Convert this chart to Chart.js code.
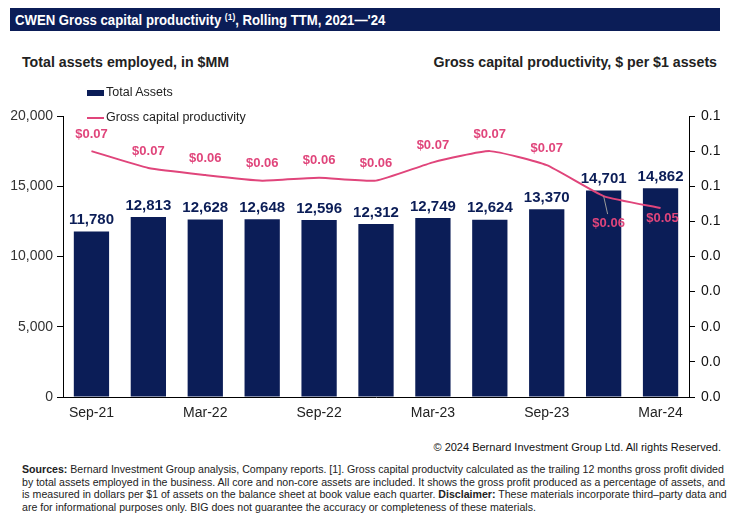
<!DOCTYPE html>
<html>
<head>
<meta charset="utf-8">
<script src="https://cdn.jsdelivr.net/npm/chart.js@4.4.1/dist/chart.umd.min.js"></script>
<style>
  body { margin: 0; width: 730px; height: 524px; background: #fff; font-family: "Liberation Sans", Arial, sans-serif; position: relative; overflow: hidden; }
  .hdr { position: absolute; left: 10px; top: 8px; width: 710px; height: 23px; background: #0b1d57; }
  .hdr span { position: absolute; left: 5px; top: 0; color: #fff; font-weight: bold; font-size: 14px; line-height: 24px; white-space: nowrap; transform: scaleX(0.94); transform-origin: left center; }
  .hdr sup { font-size: 9px; vertical-align: 5px; line-height: 0; }
  .sub { position: absolute; top: 54px; font-weight: bold; font-size: 14.2px; color: #222; }
  .leg { position: absolute; left: 87px; font-size: 12.5px; color: #222; }
  .leg i { display: inline-block; width: 17px; vertical-align: middle; margin-right: 2px; }
  #wrap { position: absolute; left: 0; top: 80px; width: 730px; height: 350px; }
  .copy { position: absolute; right: 9px; top: 441px; font-size: 11px; color: #111; }
  .src { position: absolute; left: 22px; top: 463px; font-size: 10.6px; line-height: 12.6px; color: #222; white-space: nowrap; }
</style>
</head>
<body>
<div class="hdr"><span>CWEN Gross capital productivity <sup>(1)</sup>, Rolling TTM, 2021—'24</span></div>
<div class="sub" style="left:22px">Total assets employed, in $MM</div>
<div class="sub" style="right:13px">Gross capital productivity, $ per $1 assets</div>
<div id="wrap"><canvas id="chart" width="730" height="350"></canvas></div>
<div class="leg" style="top:85px"><i style="height:6px;background:#0b1d57"></i>Total Assets</div>
<div class="leg" style="top:110px"><i style="height:2px;background:#e0457b"></i>Gross capital productivity</div>
<div class="copy">© 2024 Bernard Investment Group Ltd. All rights Reserved.</div>
<div class="src"><b>Sources:</b> Bernard Investment Group analysis, Company reports. [1]. Gross capital productvity calculated as the trailing 12 months gross profit divided<br>by total assets employed in the business. All core and non-core assets are included. It shows the gross profit produced as a percentage of assets, and<br>is measured in dollars per $1 of assets on the balance sheet at book value each quarter. <b>Disclaimer:</b> These materials incorporate third–party data and<br>are for informational purposes only. BIG does not guarantee the accuracy or completeness of these materials.</div>
<script>
const quarters = ["Sep-21", "Dec-21", "Mar-22", "Jun-22", "Sep-22", "Dec-22", "Mar-23", "Jun-23", "Sep-23", "Dec-23", "Mar-24"];
const totalAssets = [11780, 12813, 12628, 12648, 12596, 12312, 12749, 12624, 13370, 14701, 14862];
const productivity = [0.0700, 0.0652, 0.0632, 0.0616, 0.0624, 0.0616, 0.0668, 0.0700, 0.0660, 0.0572, 0.0538];
const leftTicks = [0, 5000, 10000, 15000, 20000];

const NAVY = "#0b1d57";
const PINK = "#e0457b";

// value labels for bars and the line
const labelPlugin = {
  id: "labels",
  afterDatasetsDraw(chart) {
    const c = chart.ctx;
    c.save();
    c.textAlign = "center";
    c.font = "bold 15px 'Liberation Sans', Arial";
    c.fillStyle = NAVY;
    c.textBaseline = "bottom";
    chart.getDatasetMeta(0).data.forEach((bar, i) => {
      c.fillText(totalAssets[i].toLocaleString("en-US"), bar.x, bar.y - 4);
    });
    c.font = "bold 13px 'Liberation Sans', Arial";
    c.fillStyle = PINK;
    c.textBaseline = "middle";
    const pts = chart.getDatasetMeta(1).data;
    pts.forEach((p, i) => {
      const txt = "$" + productivity[i].toFixed(2);
      if (i === 9) {
        c.strokeStyle = "#999";
        c.lineWidth = 1;
        c.beginPath();
        c.moveTo(p.x, p.y);
        c.lineTo(p.x + 4, p.y + 18);
        c.stroke();
        c.fillText(txt, p.x + 5, p.y + 27);
      } else if (i === 10) {
        c.fillText(txt, p.x + 2, p.y + 10);
      } else {
        c.fillText(txt, p.x, p.y - 17);
      }
    });
    c.restore();
  }
};

new Chart(document.getElementById("chart"), {
  data: {
    labels: quarters,
    datasets: [
      {
        type: "bar",
        label: "Total Assets",
        data: totalAssets,
        backgroundColor: NAVY,
        yAxisID: "y",
        categoryPercentage: 1,
        barPercentage: 0.62,
        order: 2
      },
      {
        type: "line",
        label: "Gross capital productivity",
        data: productivity,
        borderColor: PINK,
        borderWidth: 2,
        pointRadius: 0,
        tension: 0.15,
        yAxisID: "y1",
        order: 1
      }
    ]
  },
  options: {
    responsive: false,
    animation: false,
    layout: { padding: { top: 36 } },
    plugins: { legend: { display: false }, tooltip: { enabled: false } },
    scales: {
      x: {
        afterFit: s => { s.height = 33; },
        grid: { display: false, drawTicks: false },
        border: { display: true, color: "#000", width: 1 },
        ticks: {
          autoSkip: false,
          maxRotation: 0,
          padding: 8,
          color: "#222",
          font: { size: 14, family: "'Liberation Sans', Arial" },
          callback: (v, i) => (i % 2 === 0 ? quarters[i] : "")
        }
      },
      y: {
        position: "left",
        min: 0,
        max: 20000,
        afterFit: s => { s.width = 63; },
        afterBuildTicks: s => { s.ticks = leftTicks.map(v => ({ value: v })); },
        grid: { drawOnChartArea: false, tickLength: 6, color: "#000" },
        border: { display: true, color: "#000", width: 1 },
        ticks: {
          color: "#333",
          padding: 4,
          font: { size: 14, family: "'Liberation Sans', Arial" },
          callback: v => v.toLocaleString("en-US")
        }
      },
      y1: {
        position: "right",
        min: 0,
        max: 0.08,
        afterFit: s => { s.width = 41; },
        grid: { drawOnChartArea: false, tickLength: 6, color: "#000" },
        border: { display: true, color: "#000", width: 1 },
        ticks: {
          stepSize: 0.01,
          color: "#111",
          padding: 6,
          font: { size: 14, family: "'Liberation Sans', Arial" },
          callback: v => v.toFixed(1)
        }
      }
    }
  },
  plugins: [labelPlugin]
});
</script>
</body>
</html>
